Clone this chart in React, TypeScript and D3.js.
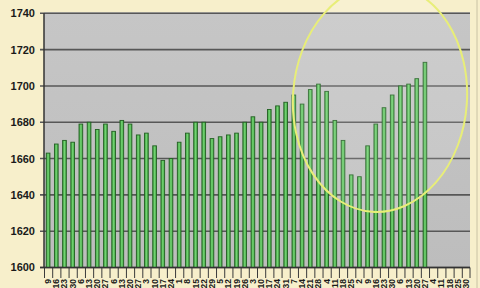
import React from "react";
import * as d3 from "d3";

const values: number[] = [
  1663, 1668, 1670, 1669, 1679, 1680, 1676, 1679, 1675, 1681,
  1679, 1673, 1674, 1667, 1659, 1660, 1669, 1674, 1680, 1680,
  1671, 1672, 1673, 1674, 1680, 1683, 1680, 1687, 1689, 1691,
  1695, 1690, 1698, 1701, 1697, 1681, 1670, 1651, 1650, 1667,
  1679, 1688, 1695, 1700, 1701, 1704, 1713,
];

const categories: string[] = [
  "9", "16", "23", "30", "6", "13", "20", "27", "6", "13",
  "20", "27", "3", "10", "17", "24", "1", "8", "15", "22",
  "29", "5", "12", "19", "26", "3", "10", "17", "24", "31",
  "7", "14", "21", "28", "4", "11", "18", "25", "2", "9",
  "16", "23", "30", "6", "13", "20", "27", "4", "11", "18",
  "25", "30",
];

const yTicks: number[] = [1600, 1620, 1640, 1660, 1680, 1700, 1720, 1740];

const W = 480;
const H = 288;
const left = 44;
const right = 470;
const top = 13.3;
const bottom = 267.5;

export default function App() {
  const idx = categories.map((_, i) => i);
  const cell = d3.scaleBand<number>().domain(idx).range([left, right]).padding(0);
  const x = d3
    .scaleBand<number>()
    .domain(idx)
    .range([left, right])
    .paddingInner(0.55)
    .paddingOuter(0.275);
  const y = d3.scaleLinear().domain([1600, 1740]).range([bottom, top]);

  return (
    <svg
      width={W}
      height={H}
      style={{ position: "absolute", left: 0, top: 0, display: "block" }}
      fontFamily="Liberation Sans, Arial, sans-serif"
    >
      <defs>
        <linearGradient id="barg" x1="0" x2="1" y1="0" y2="0">
          <stop offset="0" stopColor="#3c9e3c" />
          <stop offset="0.5" stopColor="#74d474" />
          <stop offset="1" stopColor="#3c9e3c" />
        </linearGradient>
        <linearGradient id="plotg" x1="0" x2="0" y1="0" y2="1">
          <stop offset="0" stopColor="#c6c6c6" />
          <stop offset="1" stopColor="#bdbdbd" />
        </linearGradient>
      </defs>
      <rect x={0} y={0} width={W} height={H} fill="#f7efcb" />
      <line x1={477} x2={477} y1={0} y2={H} stroke="#c9c2a4" strokeWidth={1} />
      <rect
        x={left}
        y={top - 1}
        width={right - left}
        height={bottom - top + 1}
        fill="url(#plotg)"
      />
      {yTicks.map((t) => (
        <g key={t}>
          <line
            x1={left - 4}
            x2={right}
            y1={y(t)}
            y2={y(t)}
            stroke="#575757"
            strokeWidth={1.6}
          />
          <text
            x={35}
            y={y(t)}
            dy="0.36em"
            textAnchor="end"
            fontSize={11}
            fontWeight="bold"
            fill="#1a1a1a"
          >
            {t}
          </text>
        </g>
      ))}
      {idx.map((i) => (
        <line
          key={"t" + i}
          x1={(cell(i) as number) + 0.5}
          x2={(cell(i) as number) + 0.5}
          y1={bottom}
          y2={278}
          stroke="#3a3a3a"
          strokeWidth={1}
        />
      ))}
      <line x1={right} x2={right} y1={bottom} y2={278} stroke="#3a3a3a" />
      {values.map((v, i) => (
        <rect
          key={"b" + i}
          x={x(i) as number}
          y={y(v)}
          width={x.bandwidth()}
          height={bottom - y(v)}
          fill="url(#barg)"
          stroke="#226022"
          strokeWidth={0.9}
        />
      ))}
      <line x1={left} x2={left} y1={top} y2={bottom} stroke="#333" strokeWidth={1.5} />
      <line x1={left - 4} x2={right} y1={bottom} y2={bottom} stroke="#333" strokeWidth={1.6} />
      <ellipse
        cx={380}
        cy={98}
        rx={87}
        ry={114}
        fill="rgba(255,255,255,0.12)"
        stroke="#e8ee78"
        strokeWidth={2}
        transform="rotate(4 380 98)"
      />
      {categories.map((c, i) => {
        const cx = (x(i) as number) + x.bandwidth() / 2;
        return (
          <text
            key={"l" + i}
            transform={`translate(${cx + 3},${279}) rotate(-90)`}
            textAnchor="end"
            fontSize={8.5}
            fontWeight="bold"
            fill="#1a1a1a"
          >
            {c}
          </text>
        );
      })}
    </svg>
  );
}
